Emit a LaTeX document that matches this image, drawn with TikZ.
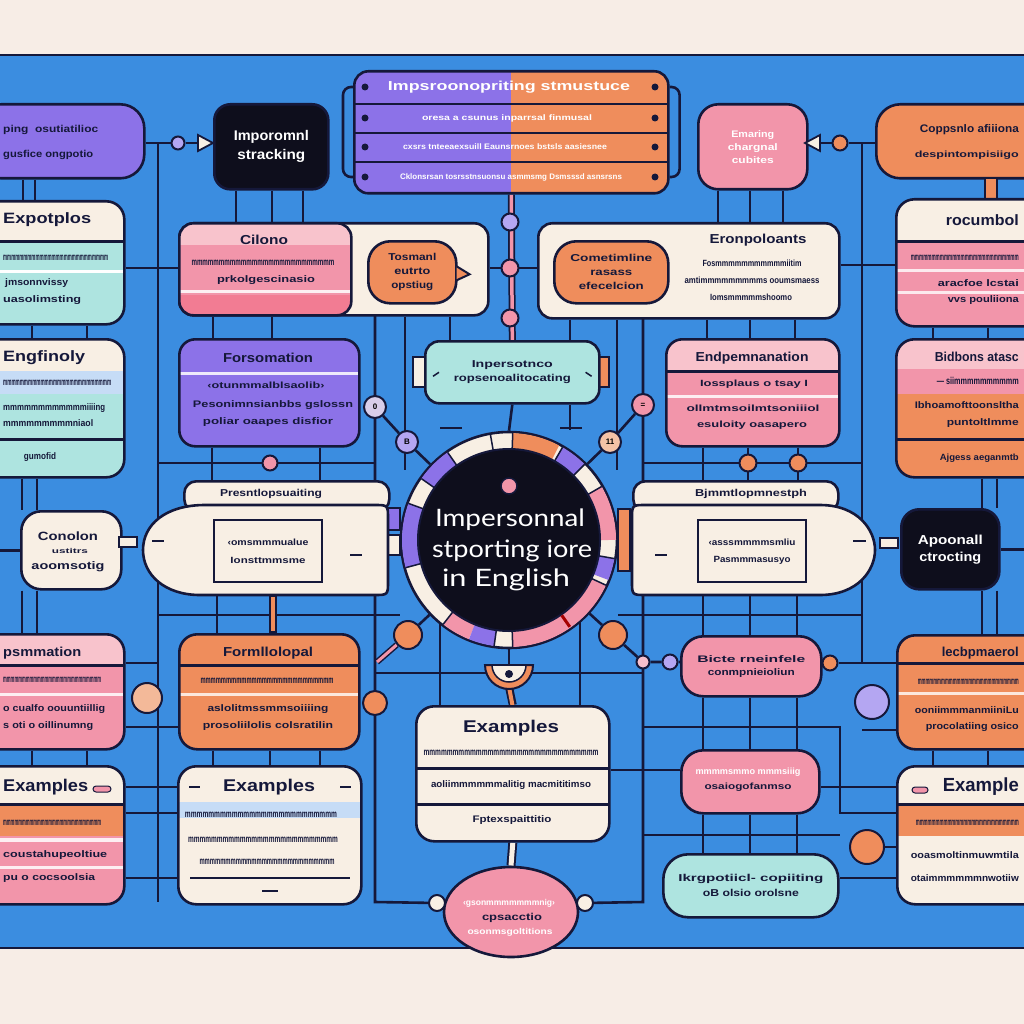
\documentclass[tikz,border=0pt]{standalone}
\usepackage{fontspec}
\usepackage{graphicx}
\setmainfont{Liberation Sans}
\newfontfamily\latofont{Lato}
\usetikzlibrary{shapes.geometric,calc}
\definecolor{bgc}{HTML}{F7EDE6}
\definecolor{panel}{HTML}{3B8DE0}
\definecolor{navy}{HTML}{15183A}
\definecolor{cream}{HTML}{F8EFE4}
\definecolor{purp}{HTML}{8C72E8}
\definecolor{lav}{HTML}{B4A6F2}
\definecolor{orng}{HTML}{EF8D5C}
\definecolor{pnk}{HTML}{F295AA}
\definecolor{dpnk}{HTML}{F27C93}
\definecolor{lpnk}{HTML}{F8C3CC}
\definecolor{teal}{HTML}{AEE4E0}
\definecolor{ink}{HTML}{0E0E1C}
\definecolor{lblue}{HTML}{C6DCF6}
\pgfdeclarelayer{bg}\pgfdeclarelayer{lines}\pgfsetlayers{bg,lines,main}
\newcommand\hband[3]{\fill[#1,sharp corners] ([yshift=-#2pt]path picture bounding box.north west) rectangle ([yshift=-#3pt]path picture bounding box.north east);}
\newcommand\hdiv[1]{\draw[navy,line width=2.4pt,sharp corners] ([yshift=-#1pt]path picture bounding box.north west) -- ([yshift=-#1pt]path picture bounding box.north east);}
\newcommand\gt[2]{\resizebox{#1pt}{\height}{#2}}
\newcommand\mm{mmmmmmmmmmmmmmmmmmmmmmmmmm}
\tikzset{
 ln/.style={draw=navy,line width=2.6pt},
 bx/.style={draw=navy,line width=2.6pt,rounded corners=#1,anchor=north west,inner sep=0pt,align=center,text=navy},
 bx/.default=16pt,
 wh/.style 2 args={minimum width=#1pt,minimum height=#2pt},
 fs/.style 2 args={font=\bfseries\fontsize{#1}{#2}\selectfont},
 tx/.style={inner sep=0pt,text=navy,align=center,font=\bfseries\fontsize{9.5}{11}\selectfont},
 ttl/.style={tx,font=\bfseries\fontsize{13}{15}\selectfont},
 mln/.style={tx,font=\bfseries\fontsize{10}{11}\selectfont},
 dotc/.style={circle,draw=navy,line width=2pt,inner sep=0pt,minimum size=#1},
 tab/.style={draw=navy,line width=2pt,inner sep=0pt},
}
\begin{document}
\begin{tikzpicture}[x=1pt,y=-1pt]
\useasboundingbox (0,0) rectangle (1024,1024);
\begin{pgfonlayer}{bg}
\fill[bgc] (0,0) rectangle (1024,1024);
\fill[panel] (0,55) rectangle (1024,948);
\draw[ln] (0,55) -- (1024,55) (0,948) -- (1024,948);
\end{pgfonlayer}
\clip (0,0) rectangle (1024,1024);

% ---------- top row
\node[bx=24pt,fill=purp,wh={167}{74}] (pA) at (-24,103) {};
\node[tx,fs={10}{11},anchor=west] (pA1) at (3,130) {\gt{95}{ping\ \ osutiatilioc}};
\node[tx,fs={10}{11},anchor=west] (pA2) at (3,155) {\gt{90}{gusfice ongpotio}};
\node[dotc=13pt,fill=lav] (d1) at (178,143) {};
\coordinate (tr1) at (205,143);
\filldraw[draw=navy,line width=1.8pt,fill=cream] ($(tr1)+(-7,-8)$) -- ($(tr1)+(8,0)$) -- ($(tr1)+(-7,8)$) -- cycle;
\node[bx=16pt,fill=ink,wh={114}{85},text=white,fs={14}{19}] (bk1) at (213,103) {\gt{75}{Imporomnl}\\\gt{68}{stracking}};

\node[bx=14pt,fill=purp,wh={314}{122},path picture={\fill[orng,sharp corners] (path picture bounding box.north) rectangle (path picture bounding box.south east);\hdiv{33}\hdiv{62}\hdiv{91}}] (st) at (353,70) {};
\node[tx,text=white,fs={13}{15}] (st1) at (509,87) {\gt{242}{Impsroonopriting stmustuce}};
\node[tx,text=white,fs={8}{9}] (st2) at (507,118) {\gt{170}{oresa a csunus inparrsal finmusal}};
\node[tx,text=white,fs={8}{9}] (st3) at (505,147) {\gt{204}{cxsrs tnteeaexsuill Eaunsrnoes bstsls aasiesnee}};
\node[tx,text=white,fs={8}{9}] (st4) at (511,177) {\gt{222}{Cklonsrsan tosrsstnsuonsu asmmsmg Dsmsssd asnsrsns}};
\foreach \yy [count=\i] in {87,118,147,177}{
 \node[circle,fill=navy,inner sep=0pt,minimum size=7pt] (sl\i) at (365,\yy) {};
 \node[circle,fill=navy,inner sep=0pt,minimum size=7pt] (sr\i) at (655,\yy) {};
}

\node[bx=20pt,fill=pnk,wh={109}{85},text=white,fs={9.5}{13}] (pk1) at (697,103) {\gt{43}{Emaring}\\\gt{50}{chargnal}\\\gt{42}{cubites}};
\coordinate (tr2) at (813,143);
\filldraw[draw=navy,line width=1.8pt,fill=cream] ($(tr2)+(7,-8)$) -- ($(tr2)+(-8,0)$) -- ($(tr2)+(7,8)$) -- cycle;
\node[dotc=15pt,fill=orng] (d2) at (840,143) {};
\node[bx=24pt,fill=orng,wh={175}{74}] (oA) at (875,103) {};
\node[tx,fs={11}{12},anchor=east] (oA1) at (1019,130) {\gt{99}{Coppsnlo afiiiona}};
\node[tx,fs={9}{10},anchor=east] (oA2) at (1019,155) {\gt{104}{despintompisiigo}};
\node[tab,fill=orng,minimum width=12pt,minimum height=22pt] (otb) at (991,189) {};

\node[dotc=17pt,fill=lav] (v1) at (510,222) {};
\node[dotc=17pt,fill=pnk] (v2) at (510,268) {};
\node[dotc=17pt,fill=pnk] (v3) at (510,318) {};

% ---------- second row
\node[bx=18pt,fill=teal,wh={145}{123},path picture={\hband{cream}{0}{40}\hband{white}{69}{72}\hdiv{40}}] (eA) at (-22,200) {};
\node[tx,fs={15}{17},anchor=west] (eA1) at (3,220) {\gt{88}{Expotplos}};
\node[mln,anchor=west] (eA2) at (3,258) {\gt{105}{\mm}};
\node[tx,anchor=west] (eA3) at (5,283) {\gt{63}{jmsonnvissy}};
\node[tx,anchor=west] (eA4) at (3,300) {\gt{78}{uasolimsting}};

\node[bx=14pt,fill=cream,wh={309}{92}] (cL) at (178,222) {};
\node[bx=14pt,fill=pnk,wh={172}{92},path picture={\hband{lpnk}{0}{22}\hband{dpnk}{72}{92}\hband{white!85!pnk}{67}{70}}] (pC) at (178,222) {};
\node[ttl] (pC1) at (264,240) {\gt{48}{Cilono}};
\node[mln] (pC2) at (263,263) {\gt{143}{\mm}};
\node[tx] (pC3) at (266,280) {\gt{98}{prkolgescinasio}};
\node[bx=22pt,fill=orng,wh={88}{62},fs={10}{14}] (bb) at (367,240) {\gt{48}{Tosmanl}\\\gt{36}{eutrto}\\\gt{42}{opstiug}};
\filldraw[draw=navy,line width=2pt,fill=orng] ($(bb.east)+(-1,-6)$) -- ($(bb.east)+(12,2)$) -- ($(bb.east)+(-1,8)$);

\node[bx=14pt,fill=cream,wh={301}{95}] (cR) at (537,222) {};
\node[bx=22pt,fill=orng,wh={114}{62},fs={10}{14}] (oR) at (553,240) {\gt{82}{Cometimline}\\\gt{42}{rasass}\\\gt{65}{efecelcion}};
\node[ttl] (cR1) at (758,240) {\gt{97}{Eronpoloants}};
\node[tx,fs={9}{10}] (cR2) at (752,263) {\gt{99}{Fosmmmmmmmmmmmiitim}};
\node[tx,fs={9}{10}] (cR3) at (752,280) {\gt{135}{amtimmmmmmmmms ooumsmaess}};
\node[tx,fs={9}{10}] (cR4) at (751,297) {\gt{82}{Iomsmmmmmshoomo}};

\node[bx=18pt,fill=pnk,wh={150}{127},path picture={\hband{cream}{0}{42}\hband{white!80!pnk}{70}{73}\hband{white!80!pnk}{92}{95}\hdiv{42}}] (rc) at (895,198) {};
\node[tx,fs={15}{17},anchor=east] (rc1) at (1019,220) {\gt{73}{rocumbol}};
\node[mln,anchor=east] (rc2) at (1019,258) {\gt{108}{\mm}};
\node[tx,anchor=east] (rc3) at (1019,283) {\gt{81}{aracfoe lcstai}};
\node[tx,anchor=east] (rc4) at (1019,300) {\gt{71}{vvs pouliiona}};

% ---------- third row
\node[bx=18pt,fill=teal,wh={145}{138},path picture={\hband{cream}{0}{32}\hband{lblue}{32}{55}\hdiv{100}}] (eL) at (-22,338) {};
\node[tx,fs={15}{17},anchor=west] (eL1) at (3,358) {\gt{82}{Engfinoly}};
\node[mln,anchor=west] (eL2) at (3,383) {\gt{108}{\mm}};
\node[tx,anchor=west] (eL3) at (3,408) {\gt{102}{mmmmmmmmmmmmiiiing}};
\node[tx,anchor=west] (eL4) at (3,423) {\gt{90}{mmmmmmmmmniaol}};
\node[tx] (eL5) at (40,457) {\gt{32}{gumofid}};

\node[bx=16pt,fill=purp,wh={180}{107},path picture={\hband{white!85!purp}{33}{36}}] (pF) at (178,338) {};
\node[ttl] (pF1) at (268,358) {\gt{90}{Forsomation}};
\node[tx,fs={9}{10}] (pF2) at (266,385) {\gt{117}{‹otunmmalblsaolib›}};
\node[tx] (pF3) at (273,405) {\gt{160}{Pesonimnsianbbs gslossn}};
\node[tx] (pF4) at (268,422) {\gt{130}{poliar oaapes disfior}};

\node[tab,fill=cream,minimum width=12pt,minimum height=30pt] (tlL) at (419,372) {};
\node[tab,fill=orng,minimum width=12pt,minimum height=30pt] (tlR) at (603,372) {};
\node[bx=14pt,fill=teal,wh={174}{62},fs={10}{14}] (tI) at (424,340) {\gt{81}{Inpersotnco}\\\gt{117}{ropsenoalitocating}};
\draw[navy,line width=1.5pt] ($(tI.west)+(9,4)$) -- ($(tI.west)+(15,0)$);
\draw[navy,line width=1.5pt] ($(tI.east)+(-9,4)$) -- ($(tI.east)+(-15,0)$);

\node[bx=16pt,fill=pnk,wh={173}{107},path picture={\hband{lpnk}{0}{32}\hband{white!85!pnk}{56}{59}\hdiv{32}}] (pE) at (665,338) {};
\node[ttl] (pE1) at (752,358) {\gt{113}{Endpemnanation}};
\node[tx,fs={9}{10}] (pE2) at (754,384) {\gt{108}{Iossplaus o tsay I}};
\node[tx,fs={9}{10}] (pE3) at (753,408) {\gt{133}{ollmtmsoilmtsoniiiol}};
\node[tx,fs={9}{10}] (pE4) at (752,425) {\gt{110}{esuloity oasapero}};

\node[bx=18pt,fill=orng,wh={150}{138},path picture={\hband{lpnk}{0}{30}\hband{pnk}{30}{55}\hdiv{100}}] (oB) at (895,338) {};
\node[ttl,anchor=east] (oB1) at (1019,357) {\gt{84}{Bidbons atasc}};
\node[mln,anchor=east] (oB2) at (1019,381) {\gt{82}{--- siimmmmmmmmmm}};
\node[tx,anchor=east] (oB3) at (1019,405) {\gt{104}{Ibhoamofttoonsltha}};
\node[tx,anchor=east] (oB4) at (1019,423) {\gt{72}{puntoltlmme}};
\node[tx,fs={9}{10},anchor=east] (oB5) at (1019,458) {\gt{79}{Ajgess aeganmtb}};

\node[dotc=22pt,fill=lav!45!cream,fs={8}{9}] (c1) at (375,407) {0};
\node[dotc=22pt,fill=lav,fs={8}{9}] (c2) at (407,442) {B};
\node[dotc=22pt,fill=orng!45!cream,fs={8}{9}] (c3) at (610,442) {11};
\node[dotc=22pt,fill=pnk,fs={8}{9}] (c4) at (643,405) {=};
\node[dotc=15pt,fill=pnk] (q1) at (270,463) {};
\node[dotc=17pt,fill=orng] (q2) at (748,463) {};
\node[dotc=17pt,fill=orng] (q3) at (798,463) {};

% ---------- centre ring
\node[tab,fill=purp,minimum width=12pt,minimum height=22pt] (rt1) at (394,519) {};
\node[tab,fill=cream,minimum width=12pt,minimum height=20pt] (rt2) at (394,545) {};
\node[tab,fill=orng,minimum width=12pt,minimum height=62pt] (rt3) at (624,540) {};
\node[circle,draw=navy,line width=2.6pt,fill=cream,minimum size=216pt,inner sep=0pt] (ring) at (509,540) {};
\begin{scope}[shift={(ring.center)},yscale=-1]
\foreach \a/\b/\c in {125/145/purp,160/195/purp,232/248/pnk,248/262/purp,62/88/orng,45/60/purp,0/30/pnk,338/350/purp,272/335/pnk}
  \draw[\c,line width=16pt] (\a:99) arc[start angle=\a,end angle=\b,radius=99];
\end{scope}
\node[circle,draw=navy,line width=2pt,fill=ink,minimum size=182pt,inner sep=0pt] (core) at (509,540) {};
\begin{scope}[shift={(ring.center)},yscale=-1]
\foreach \a in {30,45,60,88,100,125,145,160,195,232,262,272,335,350}
  \draw[navy,line width=1.5pt] (\a:91) -- (\a:107);
\draw[red!65!black,line width=3pt] (305:92) -- (305:106);
\end{scope}
\node[circle,draw=navy,line width=1.5pt,fill=pnk,minimum size=16pt,inner sep=0pt] (cdot) at (509,486) {};
\node[tx,text=white,font=\latofont\fontsize{24}{28}\selectfont] (T1) at (510,520) {\gt{150}{Impersonnal}};
\node[tx,text=white,font=\latofont\fontsize{24}{28}\selectfont] (T2) at (512,551) {\gt{160}{stporting iore}};
\node[tx,text=white,font=\latofont\fontsize{24}{28}\selectfont] (T3) at (506,580) {\gt{128}{in English}};

% ---------- fourth row
\node[bx=20pt,fill=cream,wh={100}{78}] (cn) at (20,510) {};
\node[tx,fs={12}{13}] (cn1) at (68,536) {\gt{60}{Conolon}};
\node[tx,fs={7}{8}] (cn2) at (70,551) {\gt{36}{ustitrs}};
\node[tx,fs={11}{12}] (cn3) at (68,567) {\gt{73}{aoomsotig}};
\node[tab,fill=cream,minimum width=18pt,minimum height=10pt] (cnt) at (128,542) {};

\node[bx=12pt,fill=cream,wh={205}{30}] (pLh) at (183,480) {};
\node[tx,fs={10}{11}] (pLh1) at (271,494) {\gt{102}{Presntlopsuaiting}};
\filldraw[ln,fill=cream] (205,505) -- (374,505) .. controls (388,505) .. (388,519) -- (388,581) .. controls (388,595) .. (374,595) -- (200,595) .. controls (165,595) and (143,575) .. (143,550) .. controls (143,525) and (165,505) .. (205,505) -- cycle;
\node[tab,fill=cream,minimum width=108pt,minimum height=62pt] (pLi) at (268,551) {};
\node[tx,fs={9}{10}] (pLi1) at (268,542) {\gt{81}{‹omsmmmualue}};
\node[tx,fs={9}{10}] (pLi2) at (268,560) {\gt{75}{Ionsttmmsme}};
\draw[navy,line width=2pt] (152,541) -- (164,541) (350,555) -- (362,555);

\node[bx=12pt,fill=cream,wh={205}{30}] (pRh) at (632,480) {};
\node[tx,fs={10}{11}] (pRh1) at (751,494) {\gt{112}{Bjmmtlopmnestph}};
\filldraw[ln,fill=cream] (646,505) -- (820,505) .. controls (858,505) and (875,530) .. (875,550) .. controls (875,570) and (858,595) .. (820,595) -- (646,595) .. controls (632,595) .. (632,581) -- (632,519) .. controls (632,505) .. (646,505) -- cycle;
\node[tab,fill=cream,minimum width=108pt,minimum height=62pt] (pRi) at (752,551) {};
\node[tx,fs={9}{10}] (pRi1) at (752,542) {\gt{87}{‹asssmmmmsmliu}};
\node[tx,fs={9}{10}] (pRi2) at (752,560) {\gt{77}{Pasmmmasusyo}};
\draw[navy,line width=2pt] (655,555) -- (667,555) (853,541) -- (866,541);
\node[tab,fill=cream,minimum width=18pt,minimum height=10pt] (pRt) at (889,543) {};
\node[bx=18pt,fill=ink,wh={98}{80},text=white,fs={13}{17}] (bk2) at (900,508) {\gt{65}{Apoonall}\\\gt{62}{ctrocting}};

% ---------- fifth row
\node[bx=18pt,fill=pnk,wh={145}{115},path picture={\hband{lpnk}{0}{30}\hband{white!85!pnk}{59}{62}\hdiv{31}}] (pL) at (-22,633) {};
\node[ttl,anchor=west] (pL1) at (3,653) {\gt{78}{psmmation}};
\node[mln,anchor=west] (pL2) at (3,680) {\gt{98}{\mm}};
\node[tx,anchor=west] (pL3) at (3,709) {\gt{102}{o cualfo oouuntiillig}};
\node[tx,anchor=west] (pL4) at (3,726) {\gt{90}{s oti o oillinumng}};

\node[bx=18pt,fill=orng,wh={180}{115},path picture={\hband{white!80!orng}{59}{62}\hdiv{31}}] (oF) at (178,633) {};
\node[ttl] (oF1) at (268,653) {\gt{90}{Formllolopal}};
\node[mln] (oF2) at (267,681) {\gt{133}{\mm}};
\node[tx] (oF3) at (268,709) {\gt{121}{aslolitmssmmsoiiiing}};
\node[tx] (oF4) at (268,726) {\gt{130}{prosoliilolis colsratilin}};

\node[dotc=30pt,fill=orng!55!cream] (r1) at (147,698) {};
\node[dotc=24pt,fill=orng] (r2) at (375,703) {};
\node[dotc=28pt,fill=orng] (r3) at (408,635) {};
\node[dotc=28pt,fill=orng] (r4) at (613,635) {};
\node[dotc=13pt,fill=pnk!60!white] (r5) at (643,662) {};
\node[dotc=15pt,fill=lav] (r6) at (670,662) {};
\node[dotc=15pt,fill=orng] (r7) at (830,663) {};
\node[dotc=34pt,fill=lav] (r8) at (872,702) {};
\node[dotc=34pt,fill=orng] (r9) at (867,847) {};

\coordinate (cup) at (509,665);
\filldraw[draw=navy,line width=2pt,fill=orng] ($(cup)+(-24,0)$) arc[start angle=180,end angle=0,radius=24] -- cycle;
\filldraw[draw=navy,line width=1.5pt,fill=cream] ($(cup)+(-17,0)$) arc[start angle=180,end angle=0,radius=17] -- cycle;
\fill[navy] ($(cup)+(0,9)$) circle (4);

\node[bx=18pt,fill=cream,wh={193}{135},path picture={\hdiv{62}\hdiv{98}}] (exC) at (415,705) {};
\node[tx,fs={17}{19}] (exC1) at (511,728) {\gt{96}{Examples}};
\node[mln] (exC2) at (511,753) {\gt{175}{\mm mmmm}};
\node[tx] (exC3) at (511,785) {\gt{160}{aoliimmmmmmalitig macmititimso}};
\node[tx] (exC4) at (512,820) {\gt{79}{Fptexspaittitio}};

\node[bx=22pt,fill=pnk,wh={140}{60},fs={9.5}{13}] (pB) at (680,635) {\gt{108}{Bicte rneinfele}\\\gt{87}{conmpnieioliun}};
\node[bx=22pt,fill=pnk,wh={138}{63}] (pM) at (680,749) {};
\node[tx,text=white,fs={9}{10}] (pM1) at (748,772) {\gt{105}{mmmmsmmo mmmsiiig}};
\node[tx,fs={9}{10}] (pM2) at (748,787) {\gt{87}{osaiogofanmso}};
\node[bx=25pt,fill=teal,wh={175}{63},fs={10}{15}] (tB) at (662,853) {\gt{145}{Ikrgpotiicl- copiiting}\\\gt{96}{oB olsio orolsne}};

\node[bx=18pt,fill=orng,wh={150}{114},path picture={\hband{white!80!orng}{57}{60}\hdiv{28}}] (oL) at (896,634) {};
\node[ttl,anchor=east] (oL1) at (1019,653) {\gt{77}{lecbpmaerol}};
\node[mln,anchor=east] (oL2) at (1019,682) {\gt{101}{\mm}};
\node[tx,anchor=east] (oL3) at (1019,710) {\gt{104}{ooniimmmanmiiniLu}};
\node[tx,anchor=east] (oL4) at (1019,727) {\gt{93}{procolatiing osico}};

% ---------- sixth row
\node[bx=18pt,fill=pnk,wh={145}{138},path picture={\hband{cream}{0}{38}\hband{orng}{38}{70}\hband{white!85!pnk}{72}{76}\hband{white!85!pnk}{100}{103}\hdiv{38}}] (exL) at (-22,765) {};
\node[tx,fs={17}{19},anchor=west] (exL1) at (3,787) {\gt{85}{Examples}};
\node[draw=navy,line width=1pt,fill=pnk,minimum width=18pt,minimum height=6pt,rounded corners=3pt,inner sep=0pt] (exLd) at (102,789) {};
\node[mln,anchor=west] (exL2) at (3,823) {\gt{98}{\mm}};
\node[tx,anchor=west] (exL3) at (3,855) {\gt{104}{coustahupeoltiue}};
\node[tx,anchor=west] (exL4) at (3,878) {\gt{92}{pu o cocsoolsia}};

\node[bx=18pt,fill=cream,wh={183}{138},path picture={\hband{lblue}{36}{52}}] (exM) at (177,765) {};
\node[tx,fs={17}{19}] (exM1) at (269,787) {\gt{92}{Examples}};
\draw[navy,line width=2pt] (189,787) -- (200,787) (340,787) -- (351,787);
\node[mln] (exM2) at (261,815) {\gt{152}{\mm}};
\node[mln] (exM3) at (263,840) {\gt{150}{\mm}};
\node[mln] (exM4) at (267,862) {\gt{135}{\mm}};
\draw[navy,line width=2pt] (190,878) -- (350,878) (262,891) -- (278,891);

\node[bx=18pt,fill=cream,wh={150}{138},path picture={\hband{orng}{38}{70}\hdiv{38}}] (exR) at (896,765) {};
\node[tx,fs={19}{21},anchor=east] (exR1) at (1019,787) {\gt{76}{Example}};
\node[draw=navy,line width=1pt,fill=pnk,minimum width=16pt,minimum height=6pt,rounded corners=3pt,inner sep=0pt] (exRd) at (920,790) {};
\node[mln,anchor=east] (exR2) at (1019,823) {\gt{103}{\mm}};
\node[tx,anchor=east] (exR3) at (1019,855) {\gt{108}{ooasmoltinmuwmtila}};
\node[tx,anchor=east] (exR4) at (1019,878) {\gt{108}{otaimmmmmmnwotiiw}};

\node[ellipse,draw=navy,line width=2.6pt,fill=pnk,minimum width=134pt,minimum height=90pt,inner sep=0pt] (el) at (511,912) {};
\node[tx,text=white,fs={8.5}{9}] (el1) at (509,903) {\gt{92}{‹gsonmmmmmmmnig›}};
\node[tx,fs={10}{11}] (el2) at (512,918) {\gt{60}{cpsacctio}};
\node[tx,text=white,fs={8.5}{9}] (el3) at (510,932) {\gt{85}{osonmsgoltitions}};
\node[dotc=16pt,fill=cream] (w1) at (437,903) {};
\node[dotc=16pt,fill=cream] (w2) at (585,903) {};

% ---------- connectors
\begin{pgfonlayer}{lines}
\coordinate (gA) at (158,143); \coordinate (gB) at (158,902);
\coordinate (gC) at (862,143); \coordinate (gD) at (862,663);
\coordinate (gE) at (375,314); \coordinate (gF) at (375,902);
\coordinate (gG) at (643,317); \coordinate (gH) at (643,902);
\draw[ln] (pA.east|-d1) -- (d1) -- (tr1);
\draw[ln] (gA) -- (gB);
\draw[ln] (pk1.east|-tr2) -- (d2) -- (oA.west|-d2);
\draw[ln] (gC) -- (gD);
\foreach \x in {236,272,303} \draw[ln] (bk1.south -| \x,0) -- (pC.north -| \x,0);
\foreach \x in {718,750,783} \draw[ln] (pk1.south -| \x,0) -- (cR.north -| \x,0);
\foreach \x in {23,35} \draw[ln] (pA.south -| \x,0) -- (eA.north -| \x,0);
\foreach \x in {32,87} \draw[ln] (eA.south -| \x,0) -- (eL.north -| \x,0);
\foreach \x in {213,272} \draw[ln] (pC.south -| \x,0) -- (pF.north -| \x,0);
\draw[ln] (eA.east|-0,268) -- (pC.west|-0,268);
\draw[ln] (cL.east|-v2) -- (cR.west|-v2);
\draw[ln] (cR.east|-0,265) -- (rc.west|-0,265);
\foreach \x in {707,750,795} \draw[ln] (cR.south -| \x,0) -- (pE.north -| \x,0);
\foreach \x in {933,988} \draw[ln] (rc.south -| \x,0) -- (oB.north -| \x,0);
\draw[ln] (gE) -- (gF) -- (w1);
\draw[ln] (gG) -- (gH) -- (w2);
\draw[ln] (cL.south -| 405,0) -- (405,470);
\draw[ln] (cL.south -| 450,0) -- (tI.north -| 450,0);
\draw[ln] (cR.south -| 570,0) -- (tI.north -| 570,0);
\draw[ln] (tI.south -| 570,0) -- (570,430);
\draw[ln] (cR.south -| 617,0) -- (617,470);
\draw[ln] (tI.south) -- (ring.north);
\draw[ln] (440,428) -- (462,428) (560,428) -- (582,428);
\draw[ln] (c1) -- (c2) -- (ring);
\draw[ln] (c4) -- (c3) -- (ring);
\foreach \x in {22,37} {\draw[ln] (eL.south -| \x,0) -- (cn.north -| \x,0); \draw[ln] (cn.south -| \x,0) -- (pL.north -| \x,0);}
\draw[ln] (cn.west -| 0,0) -- (cn.west);
\foreach \x in {212,320} \draw[ln] (pF.south -| \x,0) -- (pLh.north -| \x,0);
\draw[ln] (gA|-q1) -- (375,463);
\foreach \x in {703,748,798} \draw[ln] (pE.south -| \x,0) -- (pRh.north -| \x,0);
\draw[ln] (643,463) -- (gC|-q2);
\foreach \x in {982,997} {\draw[ln] (oB.south -| \x,0) -- (bk2.north -| \x,0); \draw[ln] (bk2.south -| \x,0) -- (oL.north -| \x,0);}
\draw[ln] (bk2.east) -- (bk2.east -| 1024,0);
\draw[ln] (gA|-0,615) -- (ring.west|-0,615);
\draw[ln] (ring.east|-0,615) -- (gC|-0,615);
\draw[navy,line width=8pt] (273,595) -- (oF.north -| 273,0);
\draw[orng,line width=4pt] (273,597) -- (273,631);
\draw[ln] (217,595) -- (oF.north -| 217,0);
\foreach \x in {703,750,797} {\draw[ln] (pB.north -| \x,0) -- (\x,595); \draw[ln] (pB.south -| \x,0) -- (pM.north -| \x,0); \draw[ln] (pM.south -| \x,0) -- (tB.north -| \x,0);}
\foreach \x in {32,87} \draw[ln] (pL.south -| \x,0) -- (exL.north -| \x,0);
\foreach \x in {213,270,320} \draw[ln] (oF.south -| \x,0) -- (exM.north -| \x,0);
\draw[ln] (pL.east|-0,663) -- (gA|-0,663);
\foreach \y in {727,787,813,878} \draw[ln] (pL.east|-0,\y) -- (oF.west|-0,\y);
\draw[ln] (gE|-0,673) -- (gG|-0,673);
\foreach \x in {440,580} \draw[ln] (\x,600) -- (exC.north -| \x,0);
\draw[ln] (ring) -- (r3);
\draw[ln] (ring) -- (r4);
\draw[navy,line width=6pt] (r3) -- (377,662);
\draw[pnk,line width=3pt] (r3) -- (377,662);
\draw[ln] (r4) -- (r5) -- (r6) -- (pB.west|-r6);
\draw[ln] (ring.south) -- (cup);
\draw[navy,line width=8pt] ($(cup)+(0,22)$) -- (exC.north);
\draw[orng,line width=4pt] ($(cup)+(0,22)$) -- ($(exC.north)+(0,2)$);
\draw[navy,line width=9pt] (exC.south) -- (el.north);
\draw[cream,line width=5pt] (exC.south) -- (el.north);
\draw[ln] (w1) -- (el);
\draw[ln] (w2) -- (el);
\draw[ln] (r7) -- (pB.east);
\draw[ln] (r7) -- (oL.west|-r7);
\draw[ln] (gG|-0,727) -- (840,727) -- (840,813) -- (exR.west|-0,813);
\draw[ln] (exC.east|-0,770) -- (pM.west|-0,770);
\draw[ln] (pM.east|-0,787) -- (exR.west|-0,787);
\draw[ln] (gG|-0,835) -- (840,835);
\draw[ln] (r9) -- (exR.west|-r9);
\draw[ln] (tB.east|-0,878) -- (exR.west|-0,878);
\draw[ln] (gC|-0,730) -- (oL.west|-0,730);
\foreach \x in {933,988} \draw[ln] (oL.south -| \x,0) -- (exR.north -| \x,0);
\draw[ln,rounded corners=8pt] (st.west|-sl1) -- ++(-10,0) |- (st.west|-sl4);
\draw[ln,rounded corners=8pt] (st.east|-sr1) -- ++(10,0) |- (st.east|-sr4);
\draw[navy,line width=7pt] (st.south) -- (tI.north);
\draw[pnk,line width=3.5pt] (st.south) -- (tI.north);
\end{pgfonlayer}
\end{tikzpicture}
\end{document}
